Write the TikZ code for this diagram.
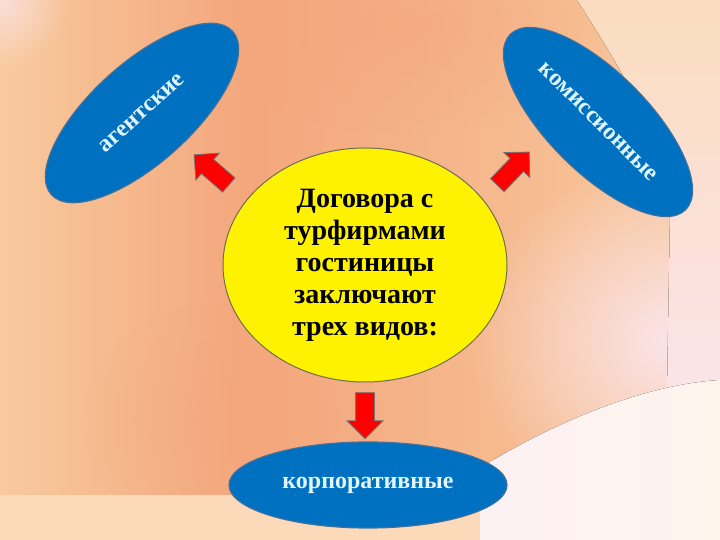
\documentclass[tikz,border=0pt]{standalone}
\usepackage{fontspec}
\setmainfont{Liberation Serif}
\usetikzlibrary{shapes.geometric,shapes.arrows,fadings}

\definecolor{peach}{HTML}{F8CA9E}
\definecolor{salmon}{HTML}{F4A67C}
\definecolor{lightpeach}{HTML}{FBDCBE}
\definecolor{blush}{HTML}{FBE4E8}
\definecolor{cream}{HTML}{FDF4EC}
\definecolor{kindblue}{HTML}{0070C0}
\definecolor{kindedge}{HTML}{41719C}
\definecolor{hubedge}{HTML}{6E6E50}

\tikzfading[name=soft blob,inner color=transparent!0,outer color=transparent!100]

\begin{document}
\begin{tikzpicture}[x=1pt,y=1pt,
  main node/.style={ellipse,fill=yellow,draw=hubedge,line width=1pt,inner sep=0pt,
    align=center,font=\bfseries\fontsize{28}{32}\selectfont},
  kind node/.style={ellipse,fill=kindblue,draw=kindedge,line width=1.2pt,inner sep=0pt,
    text=white!88!cyan,font=\bfseries\fontsize{24}{28}\selectfont},
  red arrow/.style={single arrow,fill=red,draw=black!55,line width=0.8pt,
    inner xsep=0pt,inner ysep=9pt,single arrow head extend=8.5pt,minimum height=46pt}]
  \useasboundingbox (0,0) rectangle (720,540);

  % background
  \fill[left color=peach,right color=salmon] (0,0) rectangle (250,540);
  \fill[left color=salmon,right color=peach] (250,0) rectangle (720,540);
  \fill[salmon,fill opacity=0.6,path fading=soft blob] (410,515) ellipse (200 and 110);
  \fill[salmon,fill opacity=0.5,path fading=soft blob] (230,120) ellipse (150 and 120);
  \fill[blush,fill opacity=0.8,path fading=soft blob] (0,540) circle (70);
  \fill[blush,path fading=soft blob] (668,200) ellipse (200 and 180);
  \fill[top color=lightpeach,bottom color=blush]
    (577,540) .. controls (635,450) and (672,380) .. (670,327) -- (667,150) -- (720,160) -- (720,540) -- cycle;
  \fill[left color=blush!50!white,right color=cream]
    (480,0) -- (480,72) .. controls (550,115) and (640,155) .. (720,160) -- (720,0) -- cycle;
  \fill[color=lightpeach!85!peach] (0,0) rectangle (480,45);

  \node[main node,minimum width=284pt,minimum height=234pt] (hub) at (365,275)
    {Договора с\\турфирмами\\гостиницы\\заключают\\трех видов:};
  \node[kind node,rotate=42,minimum width=244pt,minimum height=100pt] (agent) at (142,427) {агентские};
  \node[kind node,rotate=-45,minimum width=248pt,minimum height=100pt] (commis) at (598,418) {комиссионные};
  \node[kind node,minimum width=278pt,minimum height=86pt] (corp) at (368,55) {корпоративные};

  \node[red arrow,rotate=139] (toagent) at (215,367) {};
  \node[red arrow,rotate=46] (tocommis) at (510,368) {};
  \node[red arrow,rotate=-90] (tocorp) at (365,129) {};
\end{tikzpicture}
\end{document}
